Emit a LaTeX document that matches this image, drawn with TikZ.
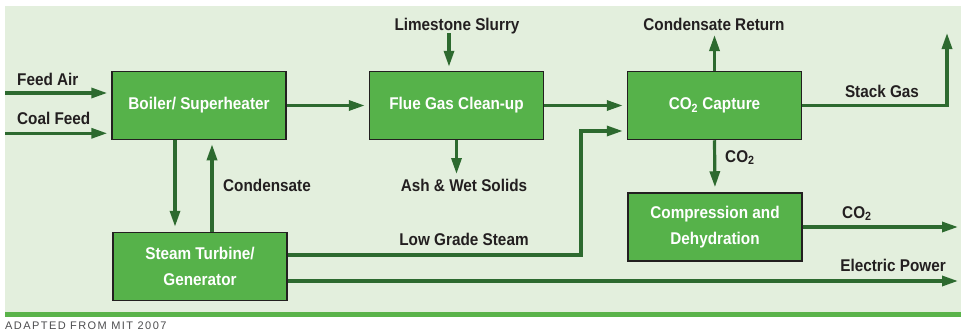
\documentclass[tikz,border=0pt]{standalone}
\usepackage{fontspec}
\setmainfont{Liberation Sans}[FakeStretch=0.9]
\newfontfamily\footfont{Liberation Sans}[LetterSpace=13]
\usetikzlibrary{arrows.meta}
\definecolor{bgc}{HTML}{E3EFDD}
\definecolor{boxfill}{HTML}{56B24A}
\definecolor{boxline}{HTML}{231F20}
\definecolor{arrowc}{HTML}{2D6A2F}
\definecolor{txt}{HTML}{231F20}
\definecolor{barc}{HTML}{5AB34A}
\definecolor{footc}{HTML}{4D4D4F}
\begin{document}
\begin{tikzpicture}[x=1pt,y=1pt,
  box/.style={draw=boxline, line width=1.5pt, fill=boxfill, text=white,
    font=\bfseries\fontsize{17}{26}\selectfont, align=center,
    minimum width=174pt, minimum height=68pt, inner sep=0pt},
  lbl/.style={text=txt, font=\bfseries\fontsize{17}{19}\selectfont, inner sep=0pt},
  arr/.style={draw=arrowc, line width=3.2pt, -{Triangle[length=16pt,width=10pt]}},
  ln/.style={draw=arrowc, line width=3.2pt}]
\useasboundingbox (0,0) rectangle (961,-332);
\fill[bgc] (5,-6) rectangle (961,-312);
\fill[barc] (5,-312) rectangle (961,-317);

% boxes
\node[box] (boiler) at (199,-105.5) {Boiler/ Superheater};
\node[box] (flue) at (456.5,-105.5) {Flue Gas Clean-up};
\node[box] (cap) at (714.5,-105.5) {CO\textsubscript{2} Capture};
\node[box] (comp) at (715,-227) {Compression and\\Dehydration};
\node[box] (turb) at (200,-266.5) {Steam Turbine/\\Generator};

% labels
\node[lbl, anchor=base west] (lfa) at (17,-85) {Feed Air};
\node[lbl, anchor=base west] (lcf) at (17,-124) {Coal Feed};
\node[lbl, anchor=base] (lls) at (457,-30.5) {Limestone Slurry};
\node[lbl, anchor=base] (lash) at (464,-191.5) {Ash \& Wet Solids};
\node[lbl, anchor=base] (llgs) at (464,-245) {Low Grade Steam};
\node[lbl, anchor=base west] (lcond) at (223,-191.7) {Condensate};
\node[lbl, anchor=base] (lcr) at (714,-30) {Condensate Return};
\node[lbl, anchor=base] (lsg) at (882,-97.5) {Stack Gas};
\node[lbl, anchor=base west] (lco2a) at (725,-162) {CO\textsubscript{2}};
\node[lbl, anchor=base west] (lco2b) at (842,-218) {CO\textsubscript{2}};
\node[lbl, anchor=base east] (lep) at (946,-271.7) {Electric Power};
\node[anchor=base west, font=\footfont\fontsize{11}{12}\selectfont, text=footc, inner sep=0pt] (src) at (5,-329.3) {ADAPTED FROM MIT 2007};

% free ends
\coordinate (fa) at (5,-93);
\coordinate (cf) at (5,-133.3);
\coordinate (ls) at (449,-33);
\coordinate (ash) at (456.5,-174);
\coordinate (crt) at (714.5,-35);
\coordinate (sgc) at (947,-105.5);
\coordinate (sgt) at (947,-33);
\coordinate (co2o) at (958,-227);
\coordinate (epo) at (958,-281);
\coordinate (lg1) at (581,-255);
\coordinate (lg2) at (581,-131);

% connectors
\draw[arr, shorten >=4pt] (fa) -- (fa -| boiler.west);
\draw[arr, shorten >=4pt] (cf) -- (cf -| boiler.west);
\draw[arr, shorten >=4pt] (boiler.east) -- (flue.west);
\draw[arr, shorten >=4pt] (ls) -- (ls |- flue.north);
\draw[arr, shorten >=4pt] (flue.east) -- (cap.west);
\draw[arr] (flue.south) -- (ash);
\draw[arr] (cap.north) -- (crt);
\draw[arr] (cap.east) -- (sgc) -- (sgt);
\draw[arr, shorten >=5pt] (cap.south) -- (comp.north);
\draw[arr] (comp.east) -- (co2o);
\draw[arr, shorten >=5pt] ([xshift=-24pt]boiler.south) -- ([xshift=-24pt]boiler.south |- turb.north);
\draw[arr, shorten >=4pt] ([xshift=13pt]boiler.south |- turb.north) -- ([xshift=13pt]boiler.south);
\draw[arr, shorten >=4pt] (turb.east |- lg1) -- (lg1) -- (lg2) -- (lg2 -| cap.west);
\draw[arr] (turb.east |- epo) -- (epo);
\end{tikzpicture}
\end{document}
